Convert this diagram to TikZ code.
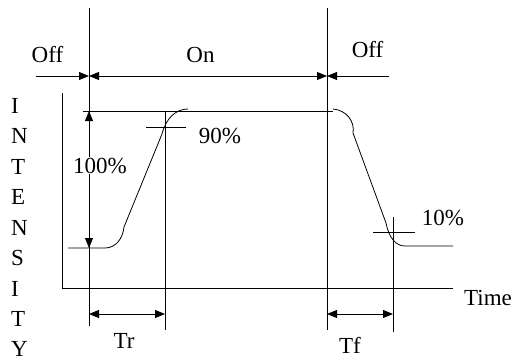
\documentclass[tikz,border=0pt]{standalone}
\usepackage{fontspec}
\setmainfont{Liberation Serif}
\usetikzlibrary{arrows.meta}
\begin{document}
\begin{tikzpicture}[x=1pt,y=-1pt,
  ln/.style={line width=0.8pt},
  dim/.style={line width=0.8pt},
  tip/.style={-{Triangle[length=10pt,width=8pt]}},
  dtip/.style={{Triangle[length=10pt,width=8pt]}-{Triangle[length=10pt,width=8pt]}},
  lbl/.style={font=\fontsize{23}{27}\selectfont, inner sep=0pt, anchor=base},
  vlet/.style={font=\fontsize{23}{27}\selectfont, inner sep=0pt, anchor=base west}]
\useasboundingbox (0,0) rectangle (518,360);
% key coordinates
\coordinate (v1t) at (89,8);
\coordinate (v1b) at (89,326);
\coordinate (v2t) at (327,8);
\coordinate (v2b) at (327,330);
\coordinate (dl) at (36,76);
\coordinate (d1) at (89,76);
\coordinate (d2) at (327,76);
\coordinate (dr) at (389,76);
\coordinate (ax0) at (62,93);
\coordinate (ax1) at (62,288);
\coordinate (ax2) at (453,288);
\coordinate (top0) at (83,111);
\coordinate (top1) at (333,111);
\coordinate (h100t) at (89,111);
\coordinate (h100b) at (89,248);
\coordinate (v90t) at (165,111);
\coordinate (v90b) at (165,330);
\coordinate (t90a) at (146,127);
\coordinate (t90b) at (186,127);
\coordinate (v10t) at (393,217);
\coordinate (v10b) at (393,332);
\coordinate (t10a) at (373,232);
\coordinate (t10b) at (415,232);
\coordinate (tr1) at (89,314);
\coordinate (tr2) at (165,314);
\coordinate (tf1) at (327,314);
\coordinate (tf2) at (393,314);
% waveform points
\coordinate (r0) at (68,248);
\coordinate (r1) at (105,248);
\coordinate (r2) at (124,227);
\coordinate (r3) at (162,134);
\coordinate (r4) at (188,109);
\coordinate (f0) at (333,109);
\coordinate (f1) at (353,133);
\coordinate (f2) at (386,223);
\coordinate (f3) at (405,246);
\coordinate (f4) at (453,246);
% vertical reference lines
\draw[ln] (v1t) -- (v1b);
\draw[ln] (v2t) -- (v2b);
\draw[ln] (v90t) -- (v90b);
\draw[ln] (v10t) -- (v10b);
% ticks
\draw[ln] (t90a) -- (t90b);
\draw[ln] (t10a) -- (t10b);
% axes
\draw[ln] (ax0) -- (ax1) -- (ax2);
% top ideal line
\draw[ln] (top0) -- (top1);
% waveform
\draw[ln] (r0) -- (r1) .. controls (116,248) and (123,238) .. (r2) -- (r3)
   .. controls (166,118) and (176,109) .. (r4);
\draw[ln] (f0) .. controls (346,110) and (355,121) .. (f1) -- (f2)
   .. controls (389,238) and (396,246) .. (f3) -- (f4);
% dimension arrows
\draw[dim,tip] (dl) -- (d1);
\draw[dim,tip] (dr) -- (d2);
\draw[dim,dtip] (d1) -- (d2);
\draw[dim,dtip] (h100b) -- (h100t);
\draw[dim,dtip] (tr1) -- (tr2);
\draw[dim,dtip] (tf1) -- (tf2);
% labels
\node[lbl] (off1) at (47.5,62) {Off};
\node[lbl] (on) at (200.5,62) {On};
\node[lbl] (off2) at (367.5,57) {Off};
\node[lbl] (p90) at (220,143) {90\%};
\node[lbl,fill=white,inner sep=1pt] (p100) at (100,173) {100\%};
\node[lbl] (p10) at (443,225) {10\%};
\node[lbl,anchor=base west] (time) at (464,305) {Time};
\node[lbl] (tr) at (124,348) {Tr};
\node[lbl] (tf) at (350,353) {Tf};
% vertical INTENSITY
\node[vlet] (l1) at (11,113) {I};
\node[vlet] (l2) at (11,143.5) {N};
\node[vlet] (l3) at (11,174) {T};
\node[vlet] (l4) at (11,204.5) {E};
\node[vlet] (l5) at (11,235) {N};
\node[vlet] (l6) at (11,265.5) {S};
\node[vlet] (l7) at (11,296) {I};
\node[vlet] (l8) at (11,326) {T};
\node[vlet] (l9) at (11,356) {Y};
\end{tikzpicture}
\end{document}
